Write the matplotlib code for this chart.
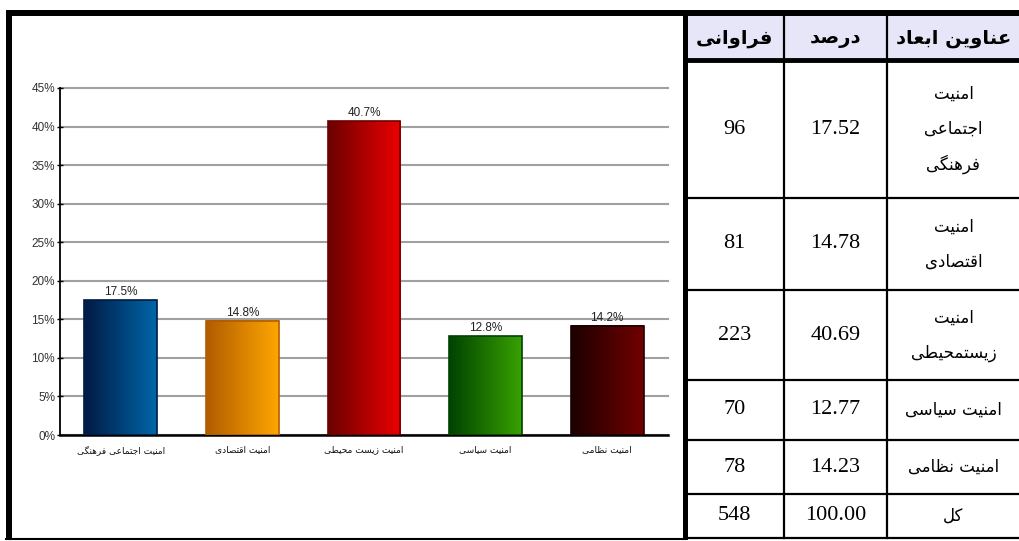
import numpy as np
import matplotlib
matplotlib.use("Agg")
import matplotlib.pyplot as plt
from matplotlib.colors import to_rgb
from matplotlib.ticker import FuncFormatter

# chart data
categories = ["امنیت اجتماعی فرهنگی", "امنیت اقتصادی", "امنیت زیست محیطی",
              "امنیت سیاسی", "امنیت نظامی"]
percent = [17.5, 14.8, 40.7, 12.8, 14.2]
bar_dark = ["#001a44", "#b05c00", "#6c0000", "#004200", "#1c0000"]
bar_light = ["#0066a8", "#ffa600", "#ec0000", "#38a200", "#720000"]
yticks = [0, 5, 10, 15, 20, 25, 30, 35, 40, 45]

# table data
table_header = ["فراوانی", "درصد", "عناوین ابعاد"]
table_titles = [["امنیت", "اجتماعی", "فرهنگی"], ["امنیت", "اقتصادی"],
                ["امنیت", "زیستمحیطی"], ["امنیت سیاسی"], ["امنیت نظامی"], ["کل"]]
table_freq = ["96", "81", "223", "70", "78", "548"]
table_pct = ["17.52", "14.78", "40.69", "12.77", "14.23", "100.00"]

# simple arabic/persian shaping (matplotlib has no shaping / bidi)
FORMS = {
    "ا": (0xFE8D, 0xFE8E, None, None), "ب": (0xFE8F, 0xFE90, 0xFE91, 0xFE92),
    "ت": (0xFE95, 0xFE96, 0xFE97, 0xFE98), "ج": (0xFE9D, 0xFE9E, 0xFE9F, 0xFEA0),
    "ح": (0xFEA1, 0xFEA2, 0xFEA3, 0xFEA4), "د": (0xFEA9, 0xFEAA, None, None),
    "ر": (0xFEAD, 0xFEAE, None, None), "ز": (0xFEAF, 0xFEB0, None, None),
    "س": (0xFEB1, 0xFEB2, 0xFEB3, 0xFEB4), "ص": (0xFEB9, 0xFEBA, 0xFEBB, 0xFEBC),
    "ط": (0xFEC1, 0xFEC2, 0xFEC3, 0xFEC4), "ظ": (0xFEC5, 0xFEC6, 0xFEC7, 0xFEC8),
    "ع": (0xFEC9, 0xFECA, 0xFECB, 0xFECC), "ف": (0xFED1, 0xFED2, 0xFED3, 0xFED4),
    "ق": (0xFED5, 0xFED6, 0xFED7, 0xFED8), "ل": (0xFEDD, 0xFEDE, 0xFEDF, 0xFEE0),
    "م": (0xFEE1, 0xFEE2, 0xFEE3, 0xFEE4), "ن": (0xFEE5, 0xFEE6, 0xFEE7, 0xFEE8),
    "ه": (0xFEE9, 0xFEEA, 0xFEEB, 0xFEEC), "و": (0xFEED, 0xFEEE, None, None),
    "ی": (0xFBFC, 0xFBFD, 0xFBFE, 0xFBFF), "ک": (0xFB8E, 0xFB8F, 0xFB90, 0xFB91),
    "گ": (0xFB92, 0xFB93, 0xFB94, 0xFB95),
}


def shape(s):
    out = []
    for i, ch in enumerate(s):
        f = FORMS.get(ch)
        if f is None:
            out.append(ch)
            continue
        prev = s[i - 1] if i > 0 else ""
        nxt = s[i + 1] if i + 1 < len(s) else ""
        join_prev = prev in FORMS and FORMS[prev][2] is not None
        join_next = f[2] is not None and nxt in FORMS
        if join_prev and join_next:
            cp = f[3]
        elif join_prev:
            cp = f[1]
        elif join_next:
            cp = f[2]
        else:
            cp = f[0]
        out.append(chr(cp))
    return "".join(out)[::-1]


W, H = 1020, 541
fig = plt.figure(figsize=(W / 100, H / 100), dpi=100)
fig.patch.set_facecolor("white")

ax = fig.add_axes([60 / W, 1 - 435 / H, 608 / W, 347 / H])
x = np.arange(len(categories))
bars = ax.bar(x, percent, width=0.6, color="none", zorder=3)
for b, c0, c1, v in zip(bars, bar_dark, bar_light, percent):
    grad = np.linspace(0, 1, 256)[None, :, None]
    img = (1 - grad) * np.array(to_rgb(c0)) + grad * np.array(to_rgb(c1))
    ax.imshow(img, extent=(b.get_x(), b.get_x() + b.get_width(), 0, b.get_height()),
              aspect="auto", zorder=3, interpolation="bilinear")
    b.set_edgecolor(c0)
    b.set_linewidth(1.2)
    b.set_zorder(4)
    ax.text(b.get_x() + b.get_width() / 2, b.get_height() + 0.25, f"{v:.1f}%",
            ha="center", va="bottom", fontsize=8.5, family="Liberation Sans",
            color="#222222", zorder=5)

ax.set_xlim(-0.5, len(categories) - 0.5)
ax.set_ylim(0, 45)
ax.set_yticks(yticks)
ax.yaxis.set_major_formatter(FuncFormatter(lambda v, p: f"{v:.0f}%"))
ax.set_xticks(x)
ax.set_xticklabels([shape(c) for c in categories], fontsize=6.5, family="DejaVu Sans",
                   color="#111111")
ax.tick_params(axis="x", length=0, pad=7)
ax.tick_params(axis="y", direction="inout", length=5, width=1, pad=1,
               labelsize=8.5, labelcolor="#333333")
for lab in ax.get_yticklabels():
    lab.set_family("Liberation Sans")
ax.grid(axis="y", color="#a0a0a0", linewidth=1.5, zorder=1)
for gl in ax.get_ygridlines():
    gl.set_clip_on(False)
ax.set_axisbelow(True)
for side in ["top", "right"]:
    ax.spines[side].set_visible(False)
ax.spines["left"].set_linewidth(1.3)
ax.spines["bottom"].set_linewidth(1.8)

# overlay in pixel coordinates for frame and table
ov = fig.add_axes([0, 0, 1, 1], zorder=10)
ov.set_xlim(0, W)
ov.set_ylim(H, 0)
ov.axis("off")
ov.patch.set_alpha(0)

# outer frame of the chart box
ov.fill_between([6, 1020], 10, 16, color="black", lw=0)
ov.fill_between([6, 12], 10, 540, color="black", lw=0)
ov.plot([6, 685], [539, 539], color="black", lw=1.5)
ov.fill_between([683, 688], 10, 540, color="black", lw=0)

# table
col_edges = [685, 784, 887, 1020]
row_edges = [16, 60, 198, 290, 380, 440, 494, 538]
ov.fill_between([688, 1020], 16, 58, color="#e6e6f8", lw=0)
for cx in col_edges[1:3]:
    ov.plot([cx, cx], [row_edges[0], row_edges[-1]], color="black", lw=1.6)
for i, ry in enumerate(row_edges[1:]):
    ov.plot([685, 1020], [ry, ry], color="black", lw=3.5 if i == 0 else 1.6)

col_mid = [(col_edges[i] + col_edges[i + 1]) / 2 for i in range(3)]
hy = (row_edges[0] + row_edges[1]) / 2
for cx, h in zip(col_mid, table_header):
    ov.text(cx, hy, shape(h), ha="center", va="center", fontsize=14,
            fontweight="bold", family="DejaVu Sans")

for r in range(len(table_freq)):
    cy = (row_edges[r + 1] + row_edges[r + 2]) / 2
    ov.text(col_mid[0], cy, table_freq[r], ha="center", va="center", fontsize=16,
            family="Liberation Serif")
    ov.text(col_mid[1], cy, table_pct[r], ha="center", va="center", fontsize=16,
            family="Liberation Serif")
    lines = table_titles[r]
    n = len(lines)
    for k, ln in enumerate(lines):
        ov.text(col_mid[2], cy + (k - (n - 1) / 2) * 35, shape(ln), ha="center",
                va="center", fontsize=12, family="DejaVu Sans")

fig.savefig("out.png", dpi=100)
